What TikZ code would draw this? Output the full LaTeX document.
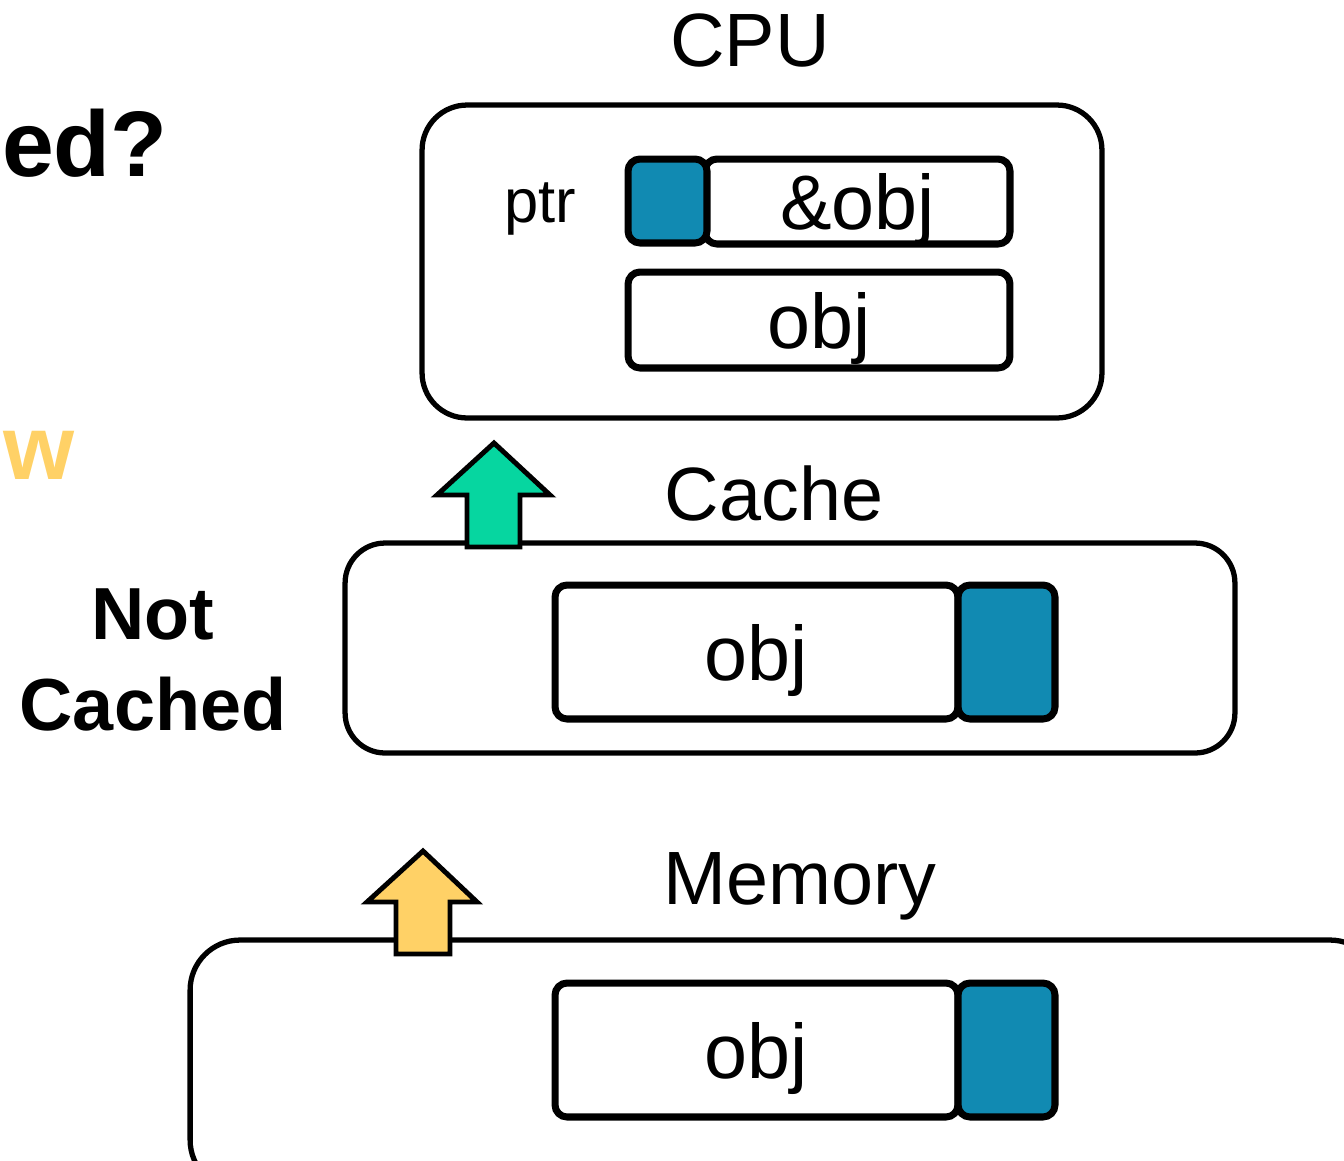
\documentclass[tikz,border=0pt]{standalone}
\usepackage{fontspec}
\setmainfont{Liberation Sans}
\definecolor{cblue}{HTML}{118AB2}
\definecolor{cgreen}{HTML}{06D6A0}
\definecolor{cyellow}{HTML}{FFD166}
\tikzset{
  outer/.style={draw=black, line width=3pt, rounded corners=0.9cm, inner sep=0pt},
  cell/.style={draw=black, fill=white, line width=4pt, rounded corners=0.24cm, inner sep=0pt, text depth=0pt, font=\fontsize{44}{50}\selectfont},
  tag/.style={draw=black, fill=cblue, line width=4pt, rounded corners=0.24cm, inner sep=0pt},
  lbl/.style={inner sep=0pt, font=\fontsize{43}{50}\selectfont},
  uparrow/.style={draw=black, line width=2.8pt, line join=miter},
}
\begin{document}
\begin{tikzpicture}[x=0.02cm,y=-0.02cm]
\useasboundingbox (0,0) rectangle (1344,1160);
\clip (0,0) rectangle (1344,1160);
% side texts
\node[inner sep=0pt, anchor=east, font=\bfseries\fontsize{53}{60}\selectfont] (q) at (168,143) {ed?};
\node[inner sep=0pt, anchor=west, text=cyellow, font=\bfseries\fontsize{52}{60}\selectfont] (w) at (3,455) {w};
\node[inner sep=0pt, align=center, font=\bfseries\fontsize{42}{52}\selectfont] (nc) at (153,660) {Not\\Cached};
% CPU
\node[lbl] (cpul) at (750,40) {CPU};
\node[outer, minimum width=13.6cm, minimum height=6.26cm] (cpu) at (762,261.5) {};
\node[lbl, font=\fontsize{35}{40}\selectfont] (ptr) at (540,209) {ptr};
\node[cell, minimum width=6.1cm, minimum height=1.7cm] (aobj) at (857.5,201.5) {\&obj};
\node[tag, minimum width=1.58cm, minimum height=1.68cm] (ptag) at (667.5,201) {};
\node[cell, minimum width=7.64cm, minimum height=1.92cm] (cobj) at (819,320) {obj};
% Cache
\node[lbl] (cachel) at (774,493) {Cache};
\node[outer, rounded corners=0.8cm, minimum width=17.8cm, minimum height=4.2cm] (cache) at (790,648) {};
\node[cell, minimum width=8.06cm, minimum height=2.68cm] (kobj) at (756.5,652) {obj};
\node[tag, minimum width=1.94cm, minimum height=2.68cm] (ktag) at (1006.5,652) {};
% Memory
\node[lbl] (meml) at (800,886) {Memory};
\node[outer, rounded corners=1cm, minimum width=23.8cm, minimum height=5cm] (mem) at (785,1065) {};
\node[cell, minimum width=8.06cm, minimum height=2.68cm] (mobj) at (756.5,1050) {obj};
\node[tag, minimum width=1.94cm, minimum height=2.68cm] (mtag) at (1006.5,1050) {};
% arrows
\draw[uparrow, fill=cgreen] (494,443) -- (550,495) -- (520,495) -- (520,547) -- (467,547) -- (467,495) -- (437,495) -- cycle;
\draw[uparrow, fill=cyellow] (423,851) -- (477,902) -- (450,902) -- (450,954) -- (396,954) -- (396,902) -- (367,902) -- cycle;
\end{tikzpicture}
\end{document}
